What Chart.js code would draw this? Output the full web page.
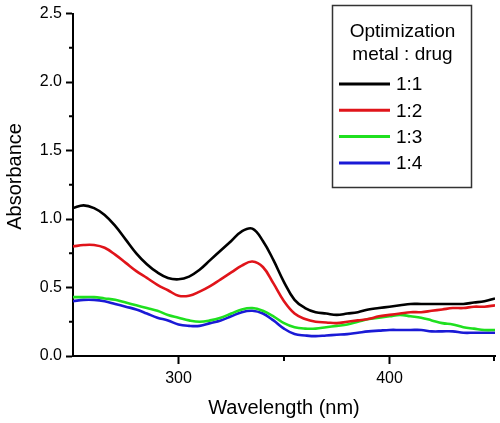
<!DOCTYPE html>
<html>
<head>
<meta charset="utf-8">
<script src="https://cdn.jsdelivr.net/npm/chart.js@4.4.0/dist/chart.umd.min.js"></script>
<style>
  html, body { margin: 0; padding: 0; background: #fff; }
  #wrap { width: 500px; height: 423px; }
</style>
</head>
<body>
<div id="wrap"><canvas id="spectra" width="500" height="423"></canvas></div>
<script>
// wavelength grid (nm) and absorbance
const wavelengths = [250, 255, 260, 265, 270, 275, 280, 285, 290, 295,
                     300, 305, 310, 315, 320, 325, 330, 335, 340, 345,
                     350, 355, 360, 365, 370, 375, 380, 385, 390, 395,
                     400, 405, 410, 415, 420, 425, 430, 435, 440, 445, 450];
const ratio11 = [1.08, 1.10, 1.08, 1.03, 0.95, 0.85, 0.75, 0.67, 0.61, 0.57,
                 0.56, 0.58, 0.63, 0.70, 0.77, 0.84, 0.91, 0.93, 0.84, 0.70,
                 0.54, 0.41, 0.35, 0.32, 0.31, 0.30, 0.31, 0.32, 0.34, 0.35,
                 0.36, 0.37, 0.38, 0.38, 0.38, 0.38, 0.38, 0.38, 0.39, 0.40, 0.42];
const ratio12 = [0.80, 0.81, 0.81, 0.79, 0.74, 0.68, 0.62, 0.57, 0.52, 0.48,
                 0.44, 0.44, 0.47, 0.51, 0.56, 0.61, 0.66, 0.69, 0.65, 0.53,
                 0.40, 0.31, 0.27, 0.25, 0.245, 0.24, 0.25, 0.26, 0.27, 0.29,
                 0.30, 0.31, 0.32, 0.32, 0.33, 0.34, 0.35, 0.35, 0.36, 0.36, 0.37];
const ratio13 = [0.43, 0.43, 0.43, 0.42, 0.41, 0.39, 0.37, 0.35, 0.33, 0.30,
                 0.28, 0.26, 0.25, 0.26, 0.28, 0.31, 0.34, 0.35, 0.33, 0.29,
                 0.24, 0.21, 0.20, 0.20, 0.21, 0.22, 0.23, 0.25, 0.27, 0.28,
                 0.29, 0.30, 0.29, 0.28, 0.26, 0.24, 0.23, 0.21, 0.20, 0.19, 0.19];
const ratio14 = [0.40, 0.41, 0.41, 0.40, 0.38, 0.36, 0.34, 0.31, 0.28, 0.26,
                 0.23, 0.22, 0.22, 0.24, 0.26, 0.29, 0.32, 0.33, 0.31, 0.26,
                 0.20, 0.16, 0.15, 0.145, 0.15, 0.155, 0.16, 0.17, 0.18, 0.185,
                 0.19, 0.19, 0.19, 0.19, 0.18, 0.18, 0.18, 0.17, 0.17, 0.17, 0.17];

const seriesLabels = ['1:1', '1:2', '1:3', '1:4'];
const seriesColors = ['#000000', '#e0141a', '#1fe01f', '#1a1ad6'];
const legendTitle = ['Optimization', 'metal : drug'];

const xMajorTicks = [300, 400];
const xMinorTicks = [350, 450];
const yMinorTicks = [0.25, 0.75, 1.25, 1.75, 2.25];

const FONT = 'Arial, "Liberation Sans", sans-serif';
Chart.defaults.color = '#000';
Chart.defaults.font.family = FONT;

const toPoints = arr => arr.map((v, i) => ({ x: wavelengths[i], y: v }));

// minor ticks are shorter than the major ones, so draw them separately
const minorTicks = {
  id: 'minorTicks',
  afterDraw(chart) {
    const { ctx, scales: { x, y }, chartArea } = chart;
    ctx.save();
    ctx.strokeStyle = '#000';
    ctx.lineWidth = 2;
    ctx.beginPath();
    xMinorTicks.forEach(v => {
      const px = Math.min(x.getPixelForValue(v), chartArea.right - 1);
      ctx.moveTo(px, chartArea.bottom);
      ctx.lineTo(px, chartArea.bottom + 5);
    });
    yMinorTicks.forEach(v => {
      const py = y.getPixelForValue(v);
      ctx.moveTo(chartArea.left, py);
      ctx.lineTo(chartArea.left - 4, py);
    });
    ctx.stroke();
    ctx.restore();
  }
};

// boxed legend with two-line title, inside the plot
const boxLegend = {
  id: 'boxLegend',
  afterDraw(chart) {
    const ctx = chart.ctx;
    const left = 332, top = 5, w = 139, h = 182;
    ctx.save();
    ctx.strokeStyle = '#333';
    ctx.lineWidth = 1.5;
    ctx.strokeRect(left + 0.5, top + 0.5, w, h);
    ctx.fillStyle = '#000';
    ctx.textBaseline = 'middle';
    ctx.textAlign = 'center';
    ctx.font = '19px ' + FONT;
    legendTitle.forEach((t, i) => ctx.fillText(t, left + w / 2 + 1, 32 + i * 23));
    ctx.textAlign = 'left';
    chart.data.datasets.forEach((ds, i) => {
      const ly = 84 + i * 26.3;
      ctx.strokeStyle = ds.borderColor;
      ctx.lineWidth = 3;
      ctx.beginPath();
      ctx.moveTo(339, ly);
      ctx.lineTo(390, ly);
      ctx.stroke();
      ctx.fillText(ds.label, 396, ly + 1);
    });
    ctx.restore();
  }
};

new Chart(document.getElementById('spectra'), {
  type: 'line',
  data: {
    datasets: [ratio11, ratio12, ratio13, ratio14].map((arr, i) => ({
      label: seriesLabels[i],
      data: toPoints(arr),
      borderColor: seriesColors[i],
      backgroundColor: seriesColors[i],
      borderWidth: 2.6,
      pointRadius: 0,
      tension: 0.4,
      fill: false
    }))
  },
  options: {
    responsive: false,
    animation: false,
    devicePixelRatio: 1,
    layout: { padding: { top: 10, right: 1, left: 0, bottom: 0 } },
    plugins: { legend: { display: false }, tooltip: { enabled: false } },
    scales: {
      x: {
        type: 'linear',
        min: 250,
        max: 450,
        afterFit: s => { s.height = 67; },
        border: { color: '#000', width: 2 },
        grid: {
          drawOnChartArea: false,
          tickLength: 8,
          tickWidth: 2,
          tickColor: c => (c.tick && xMajorTicks.includes(c.tick.value)) ? '#000' : 'rgba(0,0,0,0)'
        },
        ticks: {
          stepSize: 50,
          maxRotation: 0,
          padding: 5,
          font: { size: 16 },
          callback: v => xMajorTicks.includes(v) ? String(v) : ''
        },
        title: {
          display: true,
          text: 'Wavelength (nm)',
          font: { size: 20 },
          padding: { top: 0, bottom: 3 }
        }
      },
      y: {
        min: 0,
        max: 2.5,
        afterFit: s => { s.width = 73; },
        border: { color: '#000', width: 2 },
        grid: {
          drawOnChartArea: false,
          tickLength: 7,
          tickWidth: 2,
          tickColor: '#000'
        },
        ticks: {
          stepSize: 0.5,
          padding: 4,
          font: { size: 16 },
          callback: v => v.toFixed(1)
        },
        title: {
          display: true,
          // leading spaces nudge the rotated title a bit upwards like the original
          text: '\u00a0\u00a0\u00a0Absorbance',
          font: { size: 20 },
          padding: { top: 3, bottom: 0 }
        }
      }
    }
  },
  plugins: [minorTicks, boxLegend]
});
</script>
</body>
</html>
